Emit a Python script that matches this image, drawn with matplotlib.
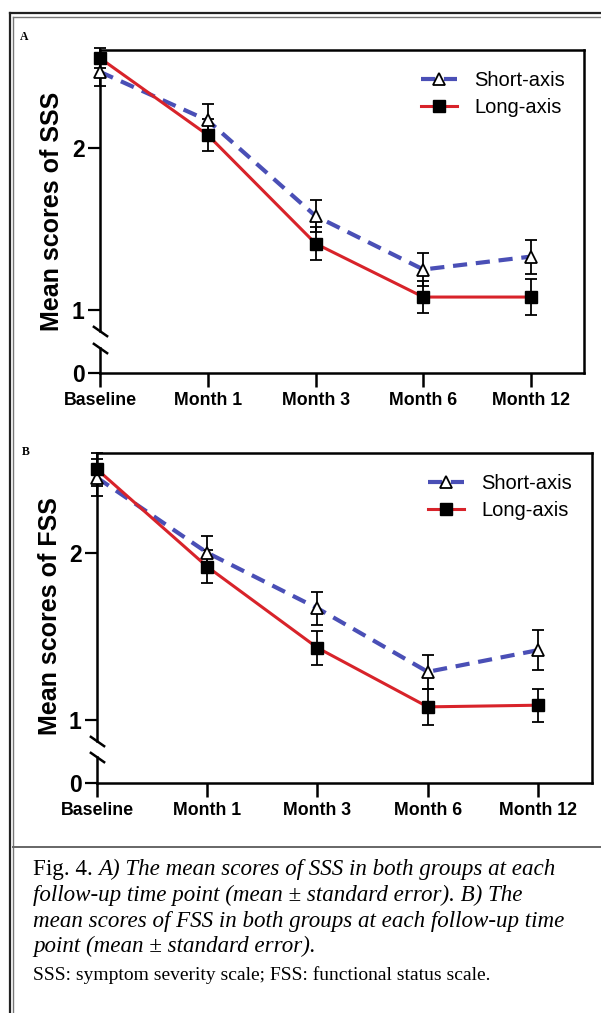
import numpy as np
import matplotlib
matplotlib.use("Agg")
import matplotlib.pyplot as plt
from matplotlib.lines import Line2D

W, H = 601, 1013

time_labels = ["Baseline", "Month 1", "Month 3", "Month 6", "Month 12"]
series_names = ["Short-axis", "Long-axis"]

# panel A - SSS
sss_short = [2.47, 2.17, 1.58, 1.25, 1.33]
sss_short_se = [0.09, 0.10, 0.10, 0.10, 0.105]
sss_long = [2.555, 2.08, 1.41, 1.08, 1.08]
sss_long_se = [0.06, 0.10, 0.10, 0.10, 0.11]

# panel B - FSS
fss_short = [2.45, 2.00, 1.667, 1.286, 1.416]
fss_short_se = [0.11, 0.10, 0.10, 0.10, 0.12]
fss_long = [2.50, 1.916, 1.43, 1.076, 1.086]
fss_long_se = [0.10, 0.10, 0.10, 0.11, 0.10]

blue = "#4a4fb6"
red = "#d8232a"

plt.rcParams["font.family"] = ["Liberation Sans", "DejaVu Sans"]

fig = plt.figure(figsize=(W / 100, H / 100), dpi=100)


def px_box(left, right, top, bottom):
    return [left / W, 1 - bottom / H, (right - left) / W, (bottom - top) / H]


def panel(geom, unit, ytop, short, short_se, long_, long_se, ylabel, ylab_xy, leg_xy, letter, letter_xy):
    left, right, top, split, bottom = geom
    ax = fig.add_axes(px_box(left, right, top, split))
    axb = fig.add_axes(px_box(left, right, split, bottom))
    ylo = ytop - (split - top) / unit
    ax.set_ylim(ylo, ytop)
    axb.set_ylim(0, (bottom - split) / unit)
    x = np.arange(len(time_labels))
    for a in (ax, axb):
        a.set_xlim(0, 4.49)
        a.patch.set_alpha(0)
        for s in a.spines.values():
            s.set_linewidth(1.8)
    ax.spines["bottom"].set_visible(False)
    axb.spines["top"].set_visible(False)
    # one continuous right spine, drawn by the upper axes
    axb.spines["right"].set_visible(False)
    ax.spines["right"].set_bounds(ylo - (bottom - split) / unit, ytop)
    upper_end = 0.87
    lower_end = 0.155
    ax.spines["left"].set_bounds(upper_end, ytop)
    axb.spines["left"].set_bounds(0, lower_end)

    ax.set_xticks([])
    ax.set_yticks([1, 2])
    ax.set_yticklabels(["1", "2"], fontsize=16.5, fontweight="bold")
    axb.set_yticks([0])
    axb.set_yticklabels(["0"], fontsize=16.5, fontweight="bold")
    axb.set_xticks(x)
    axb.set_xticklabels(time_labels, fontsize=12.8, fontweight="bold")
    for a in (ax, axb):
        a.tick_params(axis="y", direction="out", length=9, width=1.6, pad=2)
    axb.tick_params(axis="x", direction="out", length=10, width=1.8, pad=4)

    # break marks
    brk = [(-1, 0.7), (1, -0.7)]
    ax.plot(0, upper_end, marker=brk, ms=11, mec="black", mfc="none", mew=1.8, clip_on=False)
    axb.plot(0, lower_end, marker=brk, ms=11, mec="black", mfc="none", mew=1.8, clip_on=False)

    for vals, se in ((short, short_se), (long_, long_se)):
        eb = ax.errorbar(x, vals, yerr=se, fmt="none", ecolor="black", elinewidth=1.3,
                         capsize=4.5, capthick=1.3, zorder=3)
        for art in list(eb.lines[1]) + list(eb.lines[2]):
            art.set_clip_on(False)

    h1, = ax.plot(x, short, color=blue, lw=3.0, dashes=(3.4, 2.1), marker="^", ms=9,
                  mfc="white", mec="black", mew=1.3, label=series_names[0], zorder=4, clip_on=False)
    h2, = ax.plot(x, long_, color=red, lw=2.2, marker="s", ms=8.3, mfc="black", mec="black",
                  label=series_names[1], zorder=5, clip_on=False)

    ax.legend(handles=[h1, h2], loc="center left",
              bbox_to_anchor=(leg_xy[0] / W, 1 - leg_xy[1] / H), bbox_transform=fig.transFigure,
              frameon=False, fontsize=14.5, handlelength=1.8, handletextpad=0.85,
              labelspacing=0.38, borderpad=0, borderaxespad=0)

    fig.text(ylab_xy[0] / W, 1 - ylab_xy[1] / H, ylabel, rotation=90, ha="center", va="center",
             fontsize=18, fontweight="bold")
    fig.text(letter_xy[0] / W, 1 - letter_xy[1] / H, letter, ha="left", va="center",
             fontsize=8.5, fontweight="bold", family=["Liberation Serif"])


panel((100, 584, 50, 340, 373), 162, 2.605, sss_short, sss_short_se, sss_long, sss_long_se,
      "Mean scores of SSS", (52, 211), (421, 94), "A", (20, 37))
panel((97, 592, 453, 749, 783), 166.8, 2.598, fss_short, fss_short_se, fss_long, fss_long_se,
      "Mean scores of FSS", (50, 616), (428, 497), "B", (22, 452))

# outer frame and caption separator
frame = dict(transform=fig.transFigure)
fig.add_artist(Line2D([10 / W, 10 / W], [0, 1 - 13 / H], color="#222222", lw=1.6, **frame))
fig.add_artist(Line2D([13 / W, 13 / W], [0, 1 - 17 / H], color="#777777", lw=1.0, **frame))
fig.add_artist(Line2D([10 / W, 1], [1 - 13 / H, 1 - 13 / H], color="#222222", lw=1.6, **frame))
fig.add_artist(Line2D([13 / W, 1], [1 - 17 / H, 1 - 17 / H], color="#777777", lw=1.0, **frame))
fig.add_artist(Line2D([13 / W, 1], [1 - 847 / H, 1 - 847 / H], color="#666666", lw=1.4, **frame))

# caption
serif = ["Liberation Serif", "DejaVu Serif"]
cap_x = 33
cap_lines = [
    "A) The mean scores of SSS in both groups at each",
    "follow-up time point (mean \u00b1 standard error). B) The",
    "mean scores of FSS in both groups at each follow-up time",
    "point (mean \u00b1 standard error).",
]
cap_y = [869, 895, 921, 946]
note = "SSS: symptom severity scale; FSS: functional status scale."

renderer = fig.canvas.get_renderer()
t0 = fig.text(cap_x / W, 1 - cap_y[0] / H, "Fig. 4. ", fontsize=16.6, family=serif, va="center")
bb = t0.get_window_extent(renderer)
fig.text(bb.x1 / W, 1 - cap_y[0] / H, cap_lines[0], fontsize=16.6, family=serif,
         style="italic", va="center")
for line, yy in zip(cap_lines[1:], cap_y[1:]):
    fig.text(cap_x / W, 1 - yy / H, line, fontsize=16.6, family=serif, style="italic", va="center")
fig.text(cap_x / W, 1 - 975 / H, note, fontsize=14, family=serif, va="center")

fig.savefig("out.png", dpi=100)
